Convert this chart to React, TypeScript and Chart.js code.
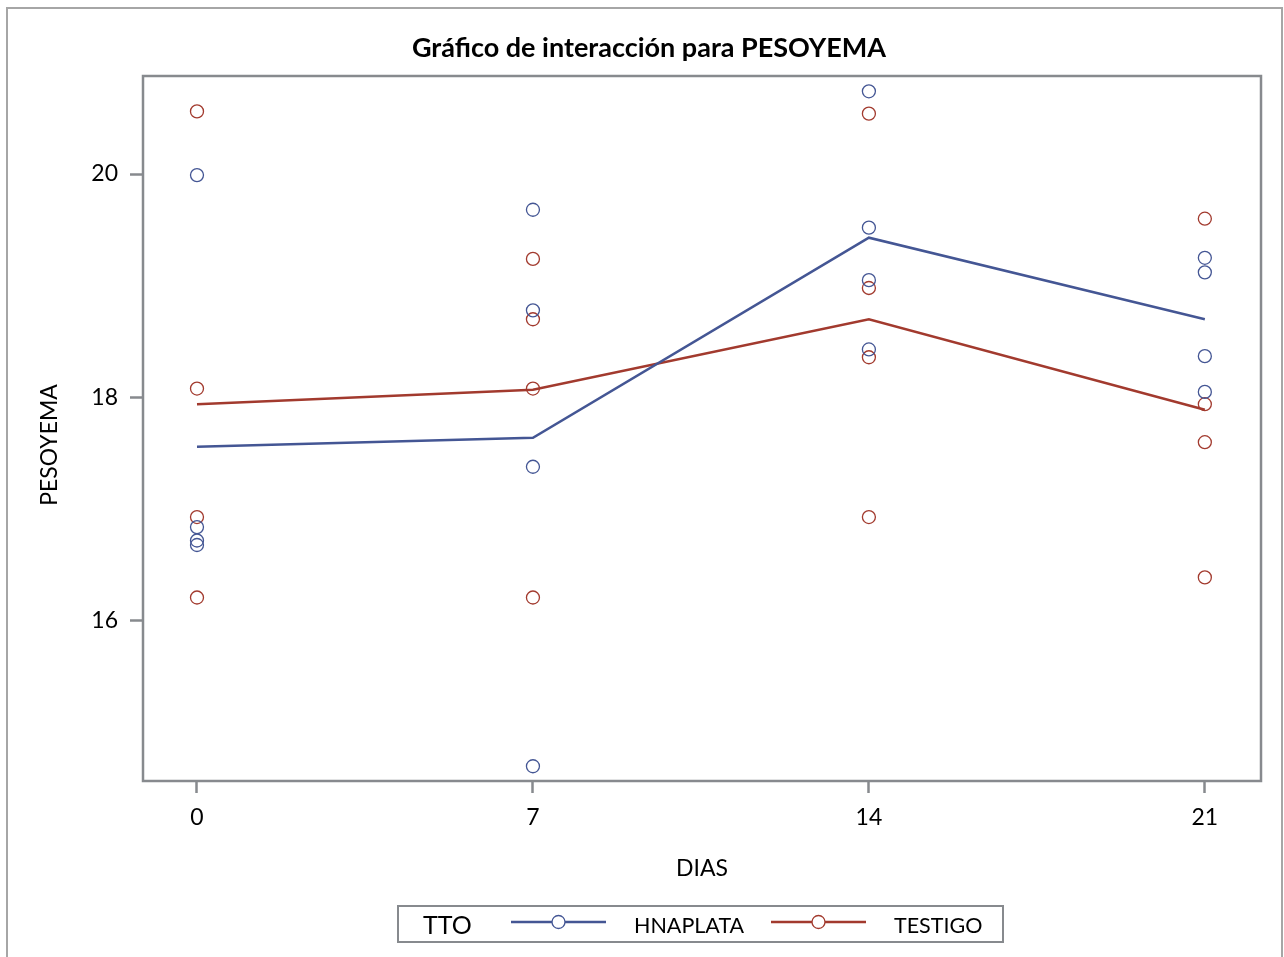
import { useEffect, useRef } from "react";
import { Chart, registerables } from "chart.js";

Chart.register(...registerables);

const FONT = "Lato, 'Open Sans', sans-serif";

const chartTitle = "Gráfico de interacción para PESOYEMA";
const xTitle = "DIAS";
const yTitle = "PESOYEMA";
const legendTitle = "TTO";
const groups = ["HNAPLATA", "TESTIGO"];
const groupColors = ["#445694", "#A23A2E"];

// Days of measurement (x categories) and axis ticks
const dias = [0, 7, 14, 21];
const yTicks = [16, 18, 20];

// Individual observations per day, one row per day
const hnaplataObs = [
  [19.99, 16.84, 16.72, 16.68],
  [19.68, 18.78, 17.38, 14.7],
  [20.74, 19.52, 19.05, 18.43],
  [19.25, 19.12, 18.37, 18.05],
];
const testigoObs = [
  [20.56, 18.08, 16.93, 16.21],
  [19.24, 18.7, 18.08, 16.21],
  [20.54, 18.98, 18.36, 16.93],
  [19.6, 17.94, 17.6, 16.39],
];

// Group means per day
const hnaplataMeans = [17.56, 17.64, 19.43, 18.7];
const testigoMeans = [17.94, 18.07, 18.7, 17.89];

const FRAME = "#878a8e";

const toPoints = (obs: number[][]) =>
  obs.flatMap((row, i) => row.map((v) => ({ x: dias[i], y: v })));
const toLine = (means: number[]) => means.map((v, i) => ({ x: dias[i], y: v }));

const decorations = {
  id: "decorations",
  beforeDatasetsDraw(chart: any) {
    const { ctx, chartArea } = chart;
    ctx.save();
    ctx.strokeStyle = FRAME;
    ctx.lineWidth = 2.5;
    ctx.strokeRect(
      chartArea.left,
      chartArea.top,
      chartArea.right - chartArea.left,
      chartArea.bottom - chartArea.top
    );
    ctx.restore();
  },
  afterDraw(chart: any) {
    const { ctx, chartArea } = chart;
    ctx.save();
    // outer border
    ctx.strokeStyle = "#a6a6a6";
    ctx.lineWidth = 2;
    ctx.strokeRect(7, 8, 1275, 980);

    ctx.fillStyle = "#000";
    ctx.textBaseline = "alphabetic";

    // title
    ctx.font = `bold 27px ${FONT}`;
    ctx.textAlign = "center";
    ctx.fillText(chartTitle, 649, 57);

    // x axis title
    ctx.font = `23px ${FONT}`;
    ctx.fillText(xTitle, (chartArea.left + chartArea.right) / 2, 876);

    // y axis title
    ctx.save();
    ctx.translate(57, 445);
    ctx.rotate(-Math.PI / 2);
    ctx.fillText(yTitle, 0, 0);
    ctx.restore();

    // legend
    ctx.strokeStyle = FRAME;
    ctx.lineWidth = 2;
    ctx.strokeRect(398, 906, 605, 36);
    ctx.textAlign = "left";
    ctx.font = `25px ${FONT}`;
    ctx.fillText(legendTitle, 423, 934);
    const items = [
      { x0: 511, x1: 606, tx: 634 },
      { x0: 771, x1: 866, tx: 894 },
    ];
    items.forEach((it, i) => {
      const cy = 922;
      ctx.strokeStyle = groupColors[i];
      ctx.lineWidth = 2.5;
      ctx.beginPath();
      ctx.moveTo(it.x0, cy);
      ctx.lineTo(it.x1, cy);
      ctx.stroke();
      ctx.fillStyle = "#fff";
      ctx.lineWidth = 1.3;
      ctx.beginPath();
      ctx.arc((it.x0 + it.x1) / 2, cy, 6.5, 0, Math.PI * 2);
      ctx.fill();
      ctx.stroke();
      ctx.fillStyle = "#000";
      ctx.font = `21.5px ${FONT}`;
      ctx.fillText(groups[i], it.tx, 933);
    });
    ctx.restore();
  },
};

export default function App() {
  const ref = useRef<HTMLCanvasElement>(null);

  useEffect(() => {
    if (!ref.current) return;
    const chart = new Chart(ref.current, {
      type: "scatter",
      data: {
        datasets: [
          {
            type: "line",
            label: groups[0] + " media",
            data: toLine(hnaplataMeans),
            borderColor: groupColors[0],
            borderWidth: 2.5,
            pointRadius: 0,
            fill: false,
            order: 2,
          },
          {
            type: "line",
            label: groups[1] + " media",
            data: toLine(testigoMeans),
            borderColor: groupColors[1],
            borderWidth: 2.5,
            pointRadius: 0,
            fill: false,
            order: 2,
          },
          {
            label: groups[0],
            data: toPoints(hnaplataObs),
            borderColor: groupColors[0],
            backgroundColor: "rgba(0,0,0,0)",
            pointRadius: 6.5,
            borderWidth: 1.3,
            order: 1,
          },
          {
            label: groups[1],
            data: toPoints(testigoObs),
            borderColor: groupColors[1],
            backgroundColor: "rgba(0,0,0,0)",
            pointRadius: 6.5,
            borderWidth: 1.3,
            order: 1,
          },
        ] as any,
      },
      plugins: [decorations],
      options: {
        animation: false,
        responsive: false,
        devicePixelRatio: 1,
        layout: { padding: { left: 83, top: 76, right: 23, bottom: 116 } },
        plugins: {
          legend: { display: false },
          title: { display: false },
          tooltip: { enabled: false },
        },
        scales: {
          x: {
            type: "linear",
            min: -1.125,
            max: 22.17,
            afterBuildTicks: (s: any) => {
              s.ticks = dias.map((v) => ({ value: v }));
            },
            afterFit: (s: any) => {
              s.height = 60;
            },
            grid: {
              drawOnChartArea: false,
              drawTicks: true,
              tickLength: 12,
              tickWidth: 2.5,
              tickColor: FRAME,
            },
            border: { display: false },
            ticks: {
              color: "#000",
              font: { family: FONT, size: 23 },
              padding: 11,
              maxRotation: 0,
            },
          },
          y: {
            type: "linear",
            min: 14.568,
            max: 20.877,
            afterBuildTicks: (s: any) => {
              s.ticks = yTicks.map((v) => ({ value: v }));
            },
            afterFit: (s: any) => {
              s.width = 60;
            },
            grid: {
              drawOnChartArea: false,
              drawTicks: true,
              tickLength: 13,
              tickWidth: 2.5,
              tickColor: FRAME,
            },
            border: { display: false },
            ticks: {
              color: "#000",
              font: { family: FONT, size: 23 },
              padding: 12,
            },
          },
        },
      } as any,
    });
    return () => chart.destroy();
  }, []);

  return (
    <canvas
      ref={ref}
      width={1284}
      height={957}
      style={{ position: "fixed", left: 0, top: 0, width: 1284, height: 957 }}
    />
  );
}
